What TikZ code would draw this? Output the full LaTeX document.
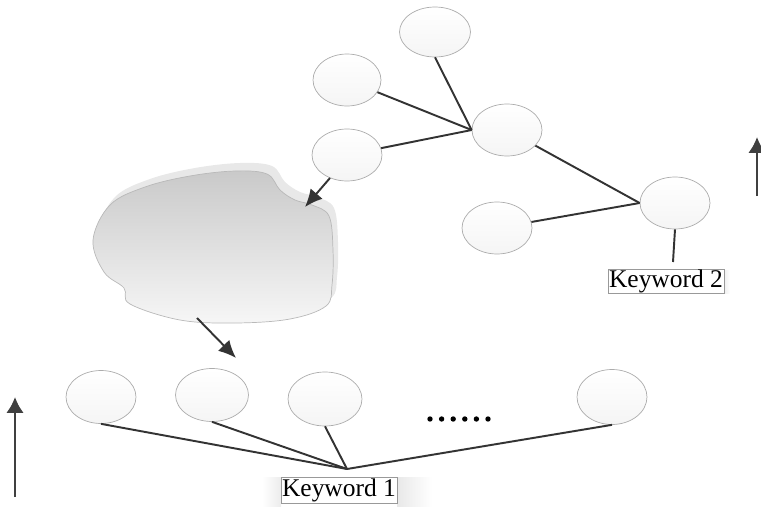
\documentclass[tikz,border=0pt]{standalone}
\usepackage{fontspec}
\setmainfont{Liberation Serif}
\usetikzlibrary{arrows.meta,shapes.geometric}

\tikzset{
  term/.style={ellipse, draw=gray!65, line width=0.4pt, top color=white, bottom color=gray!8,
    minimum width=14mm, minimum height=10.4mm, inner sep=0pt},
  link/.style={draw=black!80, line width=1.1pt},
  flow/.style={link, -{Latex[length=10pt,width=9pt]}},
  rise/.style={draw=black!75, line width=1.6pt, -{Latex[length=9pt,width=10pt]}},
  keybox/.style={draw=gray!80, fill=white, line width=0.5pt, inner sep=0pt,
    minimum width=23.2mm, font=\fontsize{14.5}{16}\selectfont},
}

\begin{document}
\begin{tikzpicture}[x=0.02cm,y=-0.02cm]
\useasboundingbox (0,0) rectangle (761,507);

% upper tree
\node[term, minimum width=14.2mm, minimum height=10mm] (n2a) at (435,32) {};
\node[term, minimum width=13.6mm] (n2b) at (347,80) {};
\node[term] (hubA) at (507,130) {};
\node[term] (n2c) at (347,155) {};
\node[term] (n2d) at (497,228) {};
\node[term] (hubB) at (675,203) {};

\draw[link] (n2a.south) -- (hubA.west);
\draw[link] (n2b) -- (hubA.west);
\draw[link] (n2c) -- (hubA.west);
\draw[link] (hubA) -- (hubB.west);
\draw[link] (n2d) -- (hubB.west);

% keyword 2
\shade[left color=gray!18, right color=white] (722,270) rectangle (730,293);
\node[keybox, minimum height=4.6mm] (key2) at (666,281.5) {Keyword 2};
\coordinate (key2top) at (673,262);
\draw[link] (hubB.south) -- (key2top);

% cloud
\coordinate (cloudin) at (305,207);
\coordinate (cloudout) at (197,318);
\fill[gray!18, shift={(5,-8)}] plot[smooth cycle, tension=0.6] coordinates {
  (93,240) (110,205) (145,187) (190,176) (235,171) (267,174) (280,190)
  (295,200) (312,205) (329,216) (333,250) (332,285) (326,306) (290,319)
  (235,323) (180,320) (130,304) (124,288) (104,272)};
\draw[gray!55, line width=0.4pt, top color=gray!42, bottom color=gray!7]
  plot[smooth cycle, tension=0.6] coordinates {
  (93,240) (110,205) (145,187) (190,176) (235,171) (267,174) (280,190)
  (295,200) (312,205) (329,216) (333,250) (332,285) (326,306) (290,319)
  (235,323) (180,320) (130,304) (124,288) (104,272)};

\coordinate (n2cfoot) at (330,178);
\draw[flow] (n2cfoot) -- (cloudin);
\coordinate (rowtop) at (236,358);
\draw[flow] (cloudout) -- (rowtop);

% lower row
\node[term, minimum height=10.6mm] (n1a) at (101,397) {};
\node[term, minimum width=14.6mm, minimum height=10.6mm] (n1b) at (212,395) {};
\node[term, minimum width=14.8mm, minimum height=10.8mm] (n1c) at (325,399) {};
\node[term, minimum height=11mm] (n1d) at (612,397) {};

\foreach \i in {0,...,5}
  \fill (430+11.6*\i,419) circle (2.7);

\coordinate (join1) at (347,469);
\draw[link] (n1a.south) -- (join1);
\draw[link] (n1b.south) -- (join1);
\draw[link] (n1c.south) -- (join1);
\draw[link] (n1d.south) -- (join1);

% keyword 1
\shade[left color=white, right color=gray!15] (262,477) rectangle (281,507);
\shade[left color=gray!18, right color=white] (397,477) rectangle (432,507);
\node[keybox, minimum height=5.2mm] (key1) at (339,490) {Keyword 1};

% upward arrows
\coordinate (up1s) at (15,497);
\coordinate (up1e) at (15,397);
\draw[rise] (up1s) -- (up1e);
\coordinate (up2s) at (757,196);
\coordinate (up2e) at (757,137);
\draw[rise] (up2s) -- (up2e);
\end{tikzpicture}
\end{document}
